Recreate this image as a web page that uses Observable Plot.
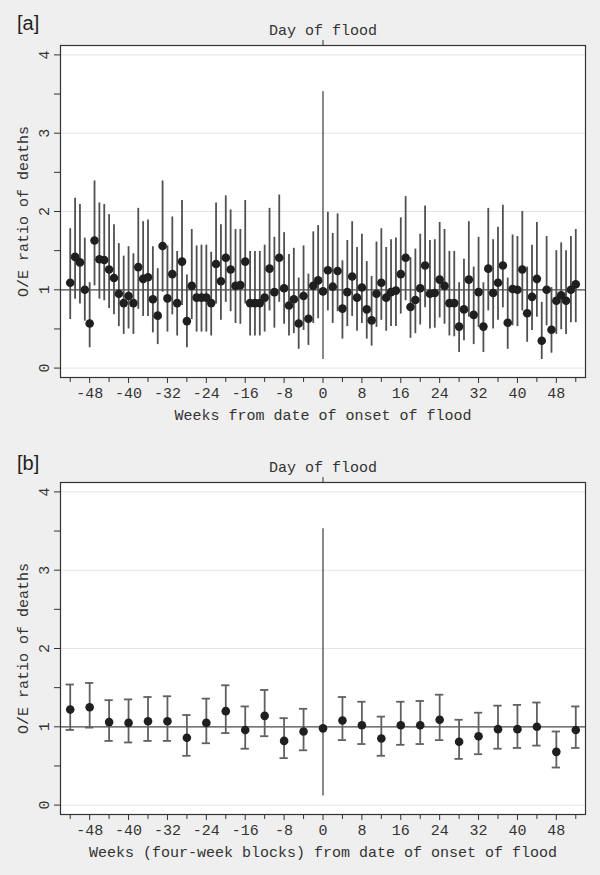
<!DOCTYPE html>
<html><head><meta charset="utf-8">
<script src="https://cdn.jsdelivr.net/npm/d3@7"></script>
<script src="https://cdn.jsdelivr.net/npm/@observablehq/plot@0.6"></script>
<style>
html,body{margin:0;padding:0;background:#efefef;}
#wrap{position:relative;width:600px;height:875px;}
.tag{position:absolute;left:17px;font-family:"Liberation Sans",Arial,sans-serif;font-size:20px;line-height:24px;color:#222;z-index:2;}
</style></head><body>
<div id="wrap">
<div class="tag" style="top:11px">[a]</div>
<div id="pa"></div>
<div class="tag" style="top:451px">[b]</div>
<div id="pb"></div>
</div>
<script>
// ---- Panel [a]: weekly O/E ratios ----
const weeksA = [-52,-51,-50,-49,-48,-47,-46,-45,-44,-43,-42,-41,-40,-39,-38,-37,-36,-35,-34,-33,-32,-31,-30,-29,-28,-27,-26,-25,-24,-23,-22,-21,-20,-19,-18,-17,-16,-15,-14,-13,-12,-11,-10,-9,-8,-7,-6,-5,-4,-3,-2,-1,0,1,2,3,4,5,6,7,8,9,10,11,12,13,14,15,16,17,18,19,20,21,22,23,24,25,26,27,28,29,30,31,32,33,34,35,36,37,38,39,40,41,42,43,44,45,46,47,48,49,50,51,52];
const estA = [1.09,1.42,1.35,1.00,0.57,1.63,1.39,1.38,1.26,1.15,0.95,0.83,0.92,0.83,1.29,1.14,1.16,0.88,0.67,1.56,0.89,1.20,0.83,1.36,0.60,1.05,0.90,0.90,0.90,0.83,1.33,1.11,1.41,1.26,1.05,1.06,1.36,0.83,0.83,0.83,0.90,1.27,0.97,1.41,1.02,0.80,0.88,0.57,0.92,0.63,1.05,1.12,0.98,1.25,1.04,1.24,0.76,0.97,1.17,0.90,1.03,0.75,0.61,0.95,1.09,0.90,0.97,0.99,1.20,1.41,0.78,0.87,1.02,1.31,0.95,0.96,1.13,1.05,0.83,0.83,0.53,0.75,1.13,0.68,0.97,0.53,1.27,0.96,1.09,1.31,0.58,1.01,1.00,1.26,0.70,0.91,1.14,0.35,1.00,0.49,0.86,0.93,0.86,1.00,1.07];
const loA = [0.62,0.88,0.82,0.60,0.26,1.05,0.88,0.86,0.76,0.68,0.53,0.43,0.50,0.43,0.75,0.66,0.66,0.45,0.30,0.97,0.46,0.68,0.41,0.80,0.26,0.62,0.46,0.46,0.46,0.41,0.82,0.61,0.84,0.72,0.57,0.56,0.82,0.41,0.41,0.41,0.46,0.73,0.51,0.84,0.56,0.41,0.44,0.24,0.48,0.29,0.57,0.63,0.11,0.73,0.57,0.72,0.37,0.53,0.66,0.47,0.57,0.37,0.28,0.52,0.61,0.47,0.53,0.53,0.69,0.86,0.38,0.44,0.55,0.77,0.50,0.51,0.64,0.56,0.41,0.40,0.20,0.35,0.65,0.30,0.52,0.20,0.73,0.50,0.61,0.77,0.24,0.54,0.53,0.73,0.33,0.48,0.65,0.11,0.54,0.19,0.43,0.49,0.43,0.58,0.58];
const hiA = [1.78,2.17,2.09,1.66,1.09,2.39,2.11,2.09,1.96,1.83,1.59,1.43,1.55,1.46,2.04,1.87,1.89,1.55,1.27,2.39,1.56,1.93,1.49,2.14,1.19,1.77,1.56,1.57,1.57,1.48,2.11,1.83,2.20,2.02,1.77,1.77,2.14,1.49,1.49,1.49,1.57,2.04,1.67,2.21,1.73,1.45,1.53,1.15,1.56,1.20,1.74,1.82,3.53,1.99,1.72,1.97,1.37,1.63,1.87,1.54,1.71,1.36,1.17,1.61,1.78,1.54,1.64,1.66,1.92,2.19,1.41,1.52,1.71,2.07,1.63,1.64,1.86,1.77,1.49,1.49,1.09,1.39,1.87,1.29,1.67,1.09,2.04,1.64,1.80,2.08,1.15,1.70,1.68,2.00,1.29,1.57,1.86,0.84,1.68,1.03,1.50,1.60,1.50,1.68,1.77];

// ---- Panel [b]: four-week blocks ----
const weeksB = [-52,-48,-44,-40,-36,-32,-28,-24,-20,-16,-12,-8,-4,0,4,8,12,16,20,24,28,32,36,40,44,48,52];
const estB = [1.22,1.25,1.06,1.05,1.07,1.07,0.86,1.05,1.20,0.96,1.14,0.82,0.94,0.98,1.08,1.02,0.85,1.02,1.02,1.09,0.81,0.88,0.97,0.97,1.00,0.68,0.96];
const loB = [0.96,0.99,0.82,0.80,0.82,0.82,0.63,0.79,0.92,0.72,0.88,0.60,0.70,0.115,0.83,0.78,0.63,0.77,0.78,0.83,0.59,0.65,0.72,0.73,0.76,0.48,0.73];
const hiB = [1.54,1.56,1.34,1.35,1.38,1.39,1.15,1.36,1.53,1.26,1.47,1.11,1.23,3.53,1.38,1.32,1.13,1.32,1.33,1.41,1.09,1.18,1.27,1.28,1.31,0.94,1.26];

// ---- axis ticks and labels ----
const yLabelTicks = [0,1,2,3,4];
const yMinorTicks = [0.5,1.5,2.5,3.5];
const xLabelTicks = [-48,-40,-32,-24,-16,-8,0,8,16,24,32,40,48];
const xMinorTicks = [-52,-44,-36,-28,-20,-12,-4,4,12,20,28,36,44,52];
const topTick = [0];
const topTickLabel = "Day of flood";
const refValue = [1];
const yTitle = "O/E ratio of deaths";
const xTitleA = "Weeks from date of onset of flood";
const xTitleB = "Weeks (four-week blocks) from date of onset of flood";

function panel(weeks, est, lo, hi, xTitle, caps, barColor, barWidth) {
  const data = weeks.map((w, i) => ({week: w, est: est[i], lo: lo[i], hi: hi[i]}));
  const flood = data.filter(d => d.week === 0);
  const others = data.filter(d => d.week !== 0);
  const marks = [
    Plot.frame({fill: "white", stroke: null}),
    Plot.gridY(yLabelTicks, {stroke: "#e4e4e4", strokeOpacity: 1}),
    Plot.ruleY(refValue, {stroke: "#505050", strokeWidth: 1.2}),
    Plot.ruleX(others, {x: "week", y1: "lo", y2: "hi", stroke: barColor, strokeWidth: barWidth}),
    Plot.ruleX(flood, {x: "week", y1: "lo", y2: "hi", stroke: "#3a3a3a", strokeWidth: 1.2})
  ];
  if (caps) {
    marks.push(Plot.ruleY(others, {y: "hi", x1: d => d.week - 0.85, x2: d => d.week + 0.85, stroke: barColor, strokeWidth: 1.8}));
    marks.push(Plot.ruleY(others, {y: "lo", x1: d => d.week - 0.85, x2: d => d.week + 0.85, stroke: barColor, strokeWidth: 1.8}));
  }
  marks.push(
    Plot.dot(data, {x: "week", y: "est", r: 4.3, fill: "#1f1f1f", stroke: null}),
    Plot.axisY(yMinorTicks, {tickSize: 6, tickFormat: () => "", label: null}),
    Plot.axisY(yLabelTicks, {tickSize: 6, tickRotate: -90, tickPadding: 6, tickFormat: d => `${d}`, label: yTitle, labelAnchor: "center", labelOffset: 43, labelArrow: "none"}),
    Plot.axisX(xMinorTicks, {tickSize: 5, tickFormat: () => "", label: null}),
    Plot.axisX(xLabelTicks, {tickSize: 6, tickPadding: 4, tickFormat: d => `${d}`, label: xTitle, labelAnchor: "center", labelOffset: 42, labelArrow: "none"}),
    Plot.axisX(topTick, {anchor: "top", tickSize: 6, tickPadding: 5, tickFormat: () => topTickLabel, label: null}),
    Plot.frame({stroke: "#333", strokeWidth: 1.2})
  );
  return Plot.plot({
    width: 600,
    height: 437,
    marginLeft: 60,
    marginRight: 15,
    marginTop: 45,
    marginBottom: 60,
    x: {domain: [-54, 54]},
    y: {domain: [-0.12, 4.12]},
    style: {background: "transparent", fontFamily: "'Liberation Mono', 'Courier New', monospace", fontSize: "15px", color: "#333"},
    marks
  });
}

document.getElementById("pa").append(panel(weeksA, estA, loA, hiA, xTitleA, false, "#505050", 1.8));
document.getElementById("pb").append(panel(weeksB, estB, loB, hiB, xTitleB, true, "#606060", 1.8));
</script>
</body></html>
